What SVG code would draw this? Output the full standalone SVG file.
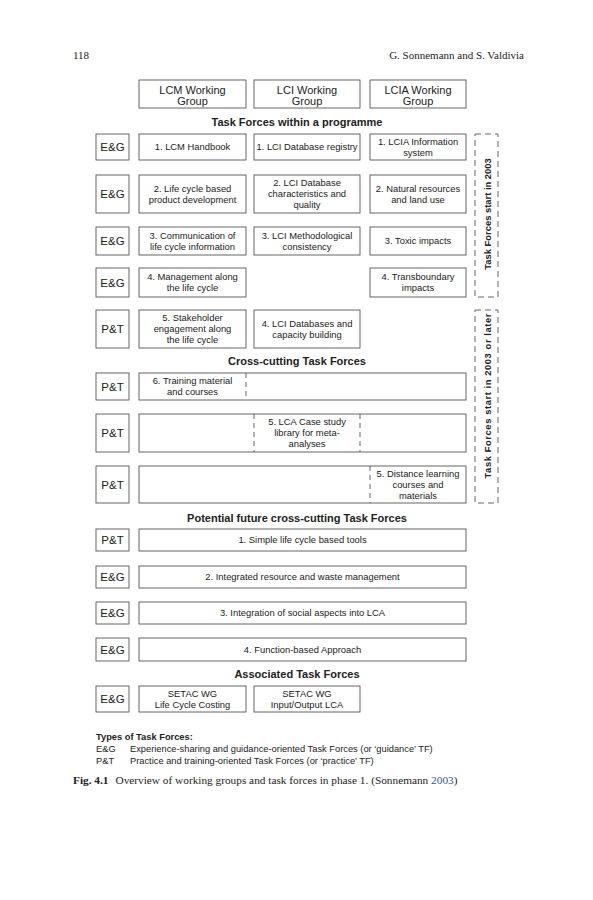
<svg xmlns="http://www.w3.org/2000/svg" width="593" height="900" viewBox="0 0 593 900">
<style>
.bx{fill:#fff;stroke:#555;stroke-width:0.9}
.dv{fill:none;stroke:#555;stroke-width:0.9;stroke-dasharray:5,4}
.db{fill:none;stroke:#555;stroke-width:0.9;stroke-dasharray:6,4}
text{font-family:"Liberation Sans",Arial,sans-serif;fill:#222}
.t{font-size:9.4px;text-anchor:middle}
.lb{font-size:11.5px;text-anchor:middle}
.wg{font-size:11px;text-anchor:middle}
.h{font-size:11px;font-weight:bold;text-anchor:middle}
.rt{font-size:9.4px;font-weight:bold;text-anchor:middle}
.lg{font-size:9.3px}
.sf{font-family:"Liberation Serif","Times New Roman",serif;fill:#222}
</style>
<rect width="593" height="900" fill="#fff"/>
<text class="sf" x="73" y="59" font-size="11">118</text>
<text class="sf" x="524" y="59" font-size="11" text-anchor="end">G. Sonnemann and S. Valdivia</text>

<g id="wg-lcm"><rect class="bx" x="139" y="80" width="107" height="28"/><text class="wg" x="192.5" y="93.5">LCM Working</text><text class="wg" x="192.5" y="104.5">Group</text></g>
<g id="wg-lci"><rect class="bx" x="254" y="80" width="106" height="28"/><text class="wg" x="307" y="93.5">LCI Working</text><text class="wg" x="307" y="104.5">Group</text></g>
<g id="wg-lcia"><rect class="bx" x="370" y="80" width="96" height="28"/><text class="wg" x="418" y="93.5">LCIA Working</text><text class="wg" x="418" y="104.5">Group</text></g>

<text class="h" x="297" y="126">Task Forces within a programme</text>

<!-- Row 1 -->
<g id="r1-lab"><rect class="bx" x="96" y="134" width="33" height="26"/><text class="lb" x="112.5" y="151">E&amp;G</text></g>
<g id="r1-c1"><rect class="bx" x="139" y="134" width="107" height="26"/><text class="t" x="192.5" y="150.3">1. LCM Handbook</text></g>
<g id="r1-c2"><rect class="bx" x="254" y="134" width="106" height="26"/><text class="t" x="307" y="150.3">1. LCI Database registry</text></g>
<g id="r1-c3"><rect class="bx" x="370" y="134" width="96" height="26"/><text class="t" x="418" y="145.3">1. LCIA Information</text><text class="t" x="418" y="156.3">system</text></g>

<!-- Row 2 -->
<g id="r2-lab"><rect class="bx" x="96" y="175" width="33" height="38"/><text class="lb" x="112.5" y="198">E&amp;G</text></g>
<g id="r2-c1"><rect class="bx" x="139" y="175" width="107" height="38"/><text class="t" x="192.5" y="191.8">2. Life cycle based</text><text class="t" x="192.5" y="202.8">product development</text></g>
<g id="r2-c2"><rect class="bx" x="254" y="175" width="106" height="38"/><text class="t" x="307" y="186.3">2. LCI Database</text><text class="t" x="307" y="197.3">characteristics and</text><text class="t" x="307" y="208.3">quality</text></g>
<g id="r2-c3"><rect class="bx" x="370" y="175" width="96" height="38"/><text class="t" x="418" y="191.8">2. Natural resources</text><text class="t" x="418" y="202.8">and land use</text></g>

<!-- Row 3 -->
<g id="r3-lab"><rect class="bx" x="96" y="227" width="33" height="28"/><text class="lb" x="112.5" y="245">E&amp;G</text></g>
<g id="r3-c1"><rect class="bx" x="139" y="227" width="107" height="28"/><text class="t" x="192.5" y="238.8">3. Communication of</text><text class="t" x="192.5" y="249.8">life cycle information</text></g>
<g id="r3-c2"><rect class="bx" x="254" y="227" width="106" height="28"/><text class="t" x="307" y="238.8">3. LCI Methodological</text><text class="t" x="307" y="249.8">consistency</text></g>
<g id="r3-c3"><rect class="bx" x="370" y="227" width="96" height="28"/><text class="t" x="418" y="244.3">3. Toxic impacts</text></g>

<!-- Row 4 -->
<g id="r4-lab"><rect class="bx" x="96" y="268" width="33" height="29"/><text class="lb" x="112.5" y="286.5">E&amp;G</text></g>
<g id="r4-c1"><rect class="bx" x="139" y="268" width="107" height="29"/><text class="t" x="192.5" y="280.3">4. Management along</text><text class="t" x="192.5" y="291.3">the life cycle</text></g>
<g id="r4-c3"><rect class="bx" x="370" y="268" width="96" height="29"/><text class="t" x="418" y="280.3">4. Transboundary</text><text class="t" x="418" y="291.3">impacts</text></g>

<g id="span-2003"><rect class="db" x="475" y="134" width="23" height="163"/><text class="rt" transform="translate(490.5,214) rotate(-90)">Task Forces start in 2003</text></g>

<!-- Row 5 -->
<g id="r5-lab"><rect class="bx" x="96" y="310" width="33" height="38"/><text class="lb" x="112.5" y="333">P&amp;T</text></g>
<g id="r5-c1"><rect class="bx" x="139" y="310" width="107" height="38"/><text class="t" x="192.5" y="321.3">5. Stakeholder</text><text class="t" x="192.5" y="332.3">engagement along</text><text class="t" x="192.5" y="343.3">the life cycle</text></g>
<g id="r5-c2"><rect class="bx" x="254" y="310" width="106" height="38"/><text class="t" x="307" y="326.8">4. LCI Databases and</text><text class="t" x="307" y="337.8">capacity building</text></g>

<text class="h" x="297" y="365">Cross-cutting Task Forces</text>

<!-- Row 6 -->
<g id="r6-lab"><rect class="bx" x="96" y="373" width="33" height="27"/><text class="lb" x="112.5" y="390.5">P&amp;T</text></g>
<g id="r6-c"><rect class="bx" x="139" y="373" width="327" height="27"/><text class="t" x="192.5" y="384.3">6. Training material</text><text class="t" x="192.5" y="395.3">and courses</text></g>

<!-- Row 7 -->
<g id="r7-lab"><rect class="bx" x="96" y="414" width="33" height="38"/><text class="lb" x="112.5" y="437">P&amp;T</text></g>
<g id="r7-c"><rect class="bx" x="139" y="414" width="327" height="38"/><text class="t" x="307" y="425.3">5. LCA Case study</text><text class="t" x="307" y="436.3">library for meta-</text><text class="t" x="307" y="447.3">analyses</text></g>

<!-- Row 8 -->
<g id="r8-lab"><rect class="bx" x="96" y="466" width="33" height="37"/><text class="lb" x="112.5" y="488.5">P&amp;T</text></g>
<g id="r8-c"><rect class="bx" x="139" y="466" width="327" height="37"/><text class="t" x="418" y="476.8">5. Distance learning</text><text class="t" x="418" y="487.8">courses and</text><text class="t" x="418" y="498.8">materials</text></g>

<g id="span-later"><rect class="db" x="475" y="310" width="23" height="193"/><text class="rt" transform="translate(490.5,396) rotate(-90)" textLength="165" lengthAdjust="spacing">Task Forces start in 2003 or later</text></g>

<g id="connectors">
<line class="dv" x1="246" y1="373" x2="246" y2="400"/>
<line class="dv" x1="254" y1="414" x2="254" y2="452"/>
<line class="dv" x1="360" y1="414" x2="360" y2="452"/>
<line class="dv" x1="370" y1="466" x2="370" y2="503"/>
</g>

<text class="h" x="297" y="521.5">Potential future cross-cutting Task Forces</text>

<g id="f1-lab"><rect class="bx" x="96" y="529" width="33" height="22"/><text class="lb" x="112.5" y="544">P&amp;T</text></g>
<g id="f1"><rect class="bx" x="139" y="529" width="327" height="22"/><text class="t" x="302.5" y="543.3">1. Simple life cycle based tools</text></g>
<g id="f2-lab"><rect class="bx" x="96" y="566" width="33" height="22"/><text class="lb" x="112.5" y="581">E&amp;G</text></g>
<g id="f2"><rect class="bx" x="139" y="566" width="327" height="22"/><text class="t" x="302.5" y="580.3">2. Integrated resource and waste management</text></g>
<g id="f3-lab"><rect class="bx" x="96" y="602" width="33" height="22"/><text class="lb" x="112.5" y="617">E&amp;G</text></g>
<g id="f3"><rect class="bx" x="139" y="602" width="327" height="22"/><text class="t" x="302.5" y="616.3">3. Integration of social aspects into LCA</text></g>
<g id="f4-lab"><rect class="bx" x="96" y="638" width="33" height="23"/><text class="lb" x="112.5" y="653.5">E&amp;G</text></g>
<g id="f4"><rect class="bx" x="139" y="638" width="327" height="23"/><text class="t" x="302.5" y="652.8">4. Function-based Approach</text></g>

<text class="h" x="297" y="678">Associated Task Forces</text>

<g id="a-lab"><rect class="bx" x="96" y="686" width="33" height="26"/><text class="lb" x="112.5" y="703">E&amp;G</text></g>
<g id="a1"><rect class="bx" x="139" y="686" width="107" height="26"/><text class="t" x="192.5" y="696.8">SETAC WG</text><text class="t" x="192.5" y="707.8">Life Cycle Costing</text></g>
<g id="a2"><rect class="bx" x="254" y="686" width="106" height="26"/><text class="t" x="307" y="696.8">SETAC WG</text><text class="t" x="307" y="707.8">Input/Output LCA</text></g>

<g id="legend">
<text class="lg" x="96" y="740" font-weight="bold">Types of Task Forces:</text>
<text class="lg" x="96" y="752">E&amp;G</text>
<text class="lg" x="130" y="752">Experience-sharing and guidance-oriented Task Forces (or ‘guidance’ TF)</text>
<text class="lg" x="96" y="764">P&amp;T</text>
<text class="lg" x="130" y="764">Practice and training-oriented Task Forces (or ‘practice’ TF)</text>
</g>
<text class="sf" x="73" y="783.5" font-size="11.3"><tspan font-weight="bold">Fig. 4.1</tspan><tspan dx="7">Overview of working groups and task forces in phase 1. (Sonnemann </tspan><tspan fill="#3553a8">2003</tspan>)</text>
</svg>
